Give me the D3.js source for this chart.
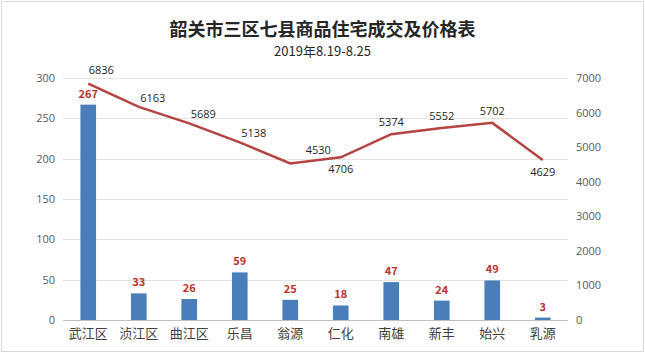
<!DOCTYPE html>
<html>
<head>
<meta charset="utf-8">
<script src="https://cdn.jsdelivr.net/npm/d3@7"></script>
<style>
  body { margin: 0; background: #fff; }
  svg text { font-family: "Noto Sans CJK SC", "Microsoft YaHei", sans-serif; }
</style>
</head>
<body>
<div id="chart"></div>
<script>
// data
const categories = ["武江区", "浈江区", "曲江区", "乐昌", "翁源", "仁化", "南雄", "新丰", "始兴", "乳源"];
const deals = [267, 33, 26, 59, 25, 18, 47, 24, 49, 3];
const prices = [6836, 6163, 5689, 5138, 4530, 4706, 5374, 5552, 5702, 4629];
const leftTicks = [0, 50, 100, 150, 200, 250, 300];
const rightTicks = [0, 1000, 2000, 3000, 4000, 5000, 6000, 7000];
// where each price label sits relative to its point
const priceLabelSide = ["upright", "right", "right", "right", "farright", "below", "above", "above", "above", "below"];

const W = 645, H = 353;
const margin = { top: 78, right: 77, bottom: 33, left: 63 };
const width = W - margin.left - margin.right;
const height = H - margin.top - margin.bottom;

const svg = d3.select("#chart").append("svg")
    .attr("width", W)
    .attr("height", H);

svg.append("rect")
    .attr("x", 1.5).attr("y", 1.5)
    .attr("width", W - 3).attr("height", H - 3)
    .attr("fill", "#fff")
    .attr("stroke", "#d9d9d9");

// title
svg.append("text")
    .attr("x", W / 2).attr("y", 36)
    .attr("text-anchor", "middle")
    .attr("font-size", 18)
    .attr("font-weight", "bold")
    .attr("fill", "#262626")
    .text("韶关市三区七县商品住宅成交及价格表");

svg.append("text")
    .attr("x", W / 2).attr("y", 56)
    .attr("text-anchor", "middle")
    .attr("font-size", 13)
    .attr("fill", "#262626")
    .style("font-family", "'Noto Sans CJK SC', 'DejaVu Sans Mono', monospace")
    .text("2019年8.19-8.25");

const g = svg.append("g")
    .attr("transform", "translate(" + margin.left + "," + margin.top + ")");

// scales
const x = d3.scaleBand()
    .domain(categories)
    .range([0, width])
    .paddingInner(0.69)
    .paddingOuter(0.345);

const yL = d3.scaleLinear().domain([0, 300]).range([height, 0]);
const yR = d3.scaleLinear().domain([0, 7000]).range([height, 0]);

// gridlines
g.selectAll(".grid")
    .data(leftTicks)
    .enter().append("line")
    .attr("class", "grid")
    .attr("x1", 0).attr("x2", width)
    .attr("y1", d => Math.round(yL(d)) + 0.5)
    .attr("y2", d => Math.round(yL(d)) + 0.5)
    .attr("stroke", d => d === 0 ? "#bfbfbf" : "#e3e3e3");

// axes
const leftAxis = g.append("g")
    .call(d3.axisLeft(yL).tickValues(leftTicks).tickSize(0).tickPadding(8));
const rightAxis = g.append("g")
    .attr("transform", "translate(" + width + ",0)")
    .call(d3.axisRight(yR).tickValues(rightTicks).tickFormat(d3.format("d")).tickSize(0).tickPadding(8));
[leftAxis, rightAxis].forEach(a => {
    a.select(".domain").remove();
    a.selectAll("text").attr("font-size", 11).attr("fill", "#595959")
        .style("font-family", "'Open Sans', 'DejaVu Sans', sans-serif");
});

const bottomAxis = g.append("g")
    .attr("transform", "translate(0," + height + ")")
    .call(d3.axisBottom(x).tickSize(0).tickPadding(9));
bottomAxis.select(".domain").remove();
bottomAxis.selectAll("text").attr("font-size", 13).attr("fill", "#404040");

// bars
g.selectAll(".bar")
    .data(deals)
    .enter().append("rect")
    .attr("class", "bar")
    .attr("x", (d, i) => x(categories[i]))
    .attr("y", d => yL(d))
    .attr("width", x.bandwidth())
    .attr("height", d => height - yL(d))
    .attr("fill", "#4a7ebb");

g.selectAll(".bar-label")
    .data(deals)
    .enter().append("text")
    .attr("class", "bar-label")
    .attr("x", (d, i) => x(categories[i]) + x.bandwidth() / 2)
    .attr("y", d => yL(d) - 7)
    .attr("text-anchor", "middle")
    .attr("font-size", 11)
    .attr("font-weight", "bold")
    .attr("fill", "#c0302b")
    .text(d => d);

// price line
const cx = i => x(categories[i]) + x.bandwidth() / 2;
const line = d3.line()
    .x((d, i) => cx(i))
    .y(d => yR(d));

g.append("path")
    .datum(prices)
    .attr("d", line)
    .attr("fill", "none")
    .attr("stroke", "#b5433f")
    .attr("stroke-width", 2.5);

const offsets = {
    upright: [13, -10],
    right: [14, -5],
    farright: [28, -9],
    above: [0, -8],
    below: [0, 16]
};

g.selectAll(".price-label")
    .data(prices)
    .enter().append("text")
    .attr("class", "price-label")
    .attr("x", (d, i) => cx(i) + offsets[priceLabelSide[i]][0])
    .attr("y", (d, i) => yR(d) + offsets[priceLabelSide[i]][1])
    .attr("text-anchor", "middle")
    .attr("font-size", 11)
    .attr("fill", "#262626")
    .style("font-family", "'Open Sans', 'DejaVu Sans', sans-serif")
    .text(d => d);
</script>
</body>
</html>
